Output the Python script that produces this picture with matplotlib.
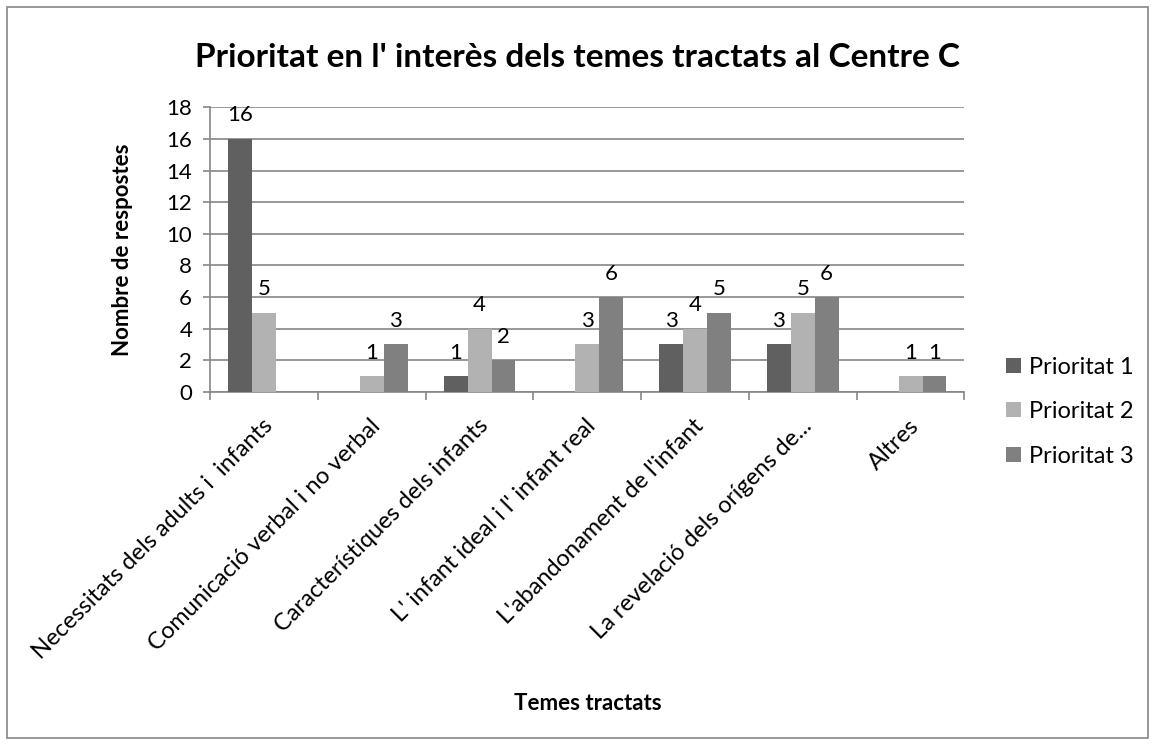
import numpy as np
import matplotlib.pyplot as plt
from matplotlib.patches import Rectangle

plt.rcParams['font.family'] = ['Lato', 'DejaVu Sans']

# Dades
temes = ["Necessitats dels adults i  infants", "Comunicació verbal i no verbal",
         "Característiques dels infants", "L' infant ideal i l' infant real",
         "L'abandonament de l'infant", "La revelació dels orígens de...", "Altres"]
prioritat1 = [16, 0, 1, 0, 3, 3, 0]
prioritat2 = [5, 1, 4, 3, 4, 5, 1]
prioritat3 = [0, 3, 2, 6, 5, 6, 1]
series = ["Prioritat 1", "Prioritat 2", "Prioritat 3"]
colors = ["#606060", "#b2b2b2", "#808080"]

fig = plt.figure(figsize=(11.55, 7.45), dpi=100)
ax = fig.add_axes([0.182, 0.474, 0.653, 0.382])

x = np.arange(len(temes))
w = 0.222
for i, (vals, name, c) in enumerate(zip([prioritat1, prioritat2, prioritat3], series, colors)):
    pos = x + (i - 1) * w
    ax.bar(pos, vals, w, color=c, label=name, zorder=3)
    for p, v in zip(pos, vals):
        if v > 0:
            ax.text(p, v + 0.85, str(v), ha='center', va='bottom', fontsize=16, zorder=4)

ax.set_xlim(-0.5, len(temes) - 0.5)
ax.set_ylim(0, 18)
ax.set_yticks(range(0, 19, 2))
ax.yaxis.grid(True, color='#868686', lw=1.2, zorder=0)
for s in ['top', 'right']:
    ax.spines[s].set_visible(False)
for s in ['left', 'bottom']:
    ax.spines[s].set_color('#868686')
    ax.spines[s].set_linewidth(1.2)
ax.tick_params(axis='y', length=5, color='#868686', width=1.2, labelsize=16, pad=8)
ax.set_xticks(np.arange(-0.5, len(temes)))
ax.set_xticklabels([])
ax.tick_params(axis='x', length=6, color='#868686', width=1.2)
ax.set_xticks(x + 0.05, minor=True)
ax.set_xticklabels(temes, minor=True, rotation=45, ha='right', va='center',
                   rotation_mode='anchor', fontsize=17)
ax.tick_params(axis='x', which='minor', length=0, pad=22)

ax.set_ylabel("Nombre de respostes", fontsize=16, fontweight='bold', labelpad=24)
fig.text(0.509, 0.056, "Temes tractats", ha='center', va='center', fontsize=16, fontweight='bold')
fig.text(0.5, 0.923, "Prioritat en l' interès dels temes tractats al Centre C",
         ha='center', va='center', fontsize=24, fontweight='bold')

ax.legend(loc='center left', bbox_to_anchor=(1.040, -0.07), frameon=False, fontsize=17,
          borderpad=0, handlelength=0.6, handleheight=0.6, handletextpad=0.35,
          labelspacing=1.0)

fig.patches.append(Rectangle((0.006, 0.009), 0.988, 0.982, transform=fig.transFigure,
                             fill=False, edgecolor='#868686', lw=1.2))

fig.savefig("out.png", dpi=100)
